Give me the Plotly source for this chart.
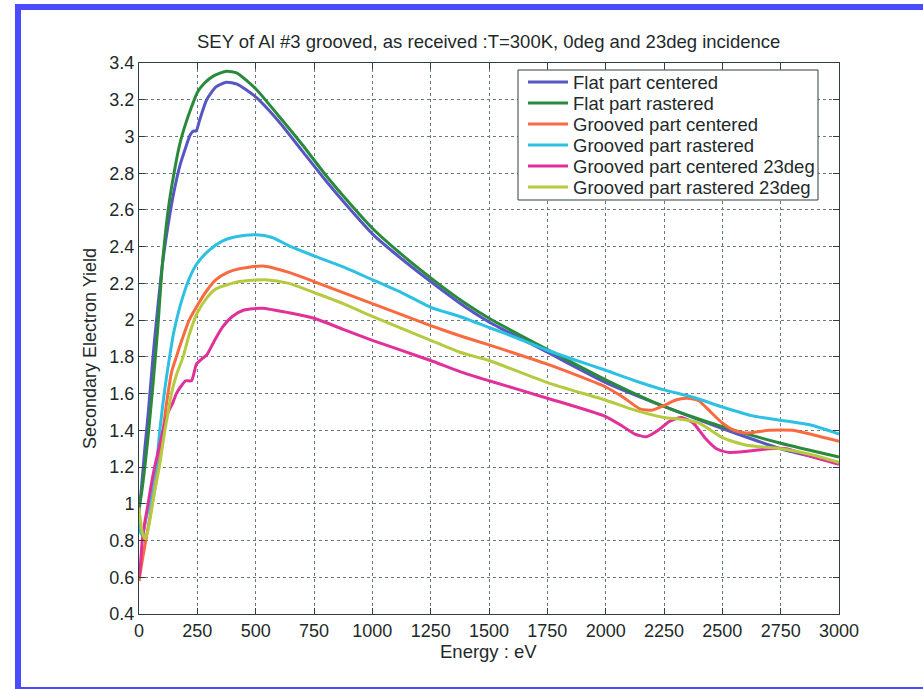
import plotly.graph_objects as go

# ---------------- data ----------------
flat_centered_E = [0, 10, 25, 40, 60, 75, 100, 125, 150, 175, 200, 220, 235, 245, 260, 290, 330, 375, 420, 500,
                   600, 700, 800, 900, 1000, 1100, 1250, 1400, 1500, 1750, 2000, 2250, 2500, 2750, 3000]
flat_centered_Y = [0.95, 1.08, 1.3, 1.5, 1.8, 2.0, 2.3, 2.52, 2.7, 2.84, 2.94, 3.01, 3.03, 3.03, 3.09, 3.2, 3.27, 3.295, 3.285, 3.215,
                   3.08, 2.92, 2.76, 2.61, 2.47, 2.36, 2.21, 2.07, 1.99, 1.825, 1.66, 1.53, 1.41, 1.3, 1.225]

flat_rastered_E = [0, 10, 25, 40, 60, 80, 100, 125, 150, 175, 200, 225, 250, 280, 320, 375, 420, 500,
                   600, 700, 800, 900, 1000, 1100, 1250, 1400, 1500, 1750, 2000, 2250, 2500, 2750, 3000]
flat_rastered_Y = [0.98, 1.05, 1.2, 1.38, 1.65, 1.95, 2.3, 2.6, 2.8, 2.96, 3.07, 3.16, 3.24, 3.29, 3.33, 3.355, 3.345, 3.26,
                   3.11, 2.955, 2.79, 2.64, 2.5, 2.385, 2.23, 2.09, 2.01, 1.84, 1.675, 1.53, 1.42, 1.33, 1.255]

groove_centered_E = [0, 5, 15, 29, 43, 57, 70, 82, 93, 103, 113, 124, 140, 160, 186, 215, 250, 290, 330, 380, 430, 530,
                     643, 750, 875, 1000, 1125, 1250, 1375, 1500, 1750, 2000, 2075, 2150, 2200, 2250, 2300, 2350,
                     2400, 2450, 2500, 2550, 2600, 2700, 2800, 2875, 3000]
groove_centered_Y = [0.58, 0.62, 0.7, 0.8, 0.9, 1.0, 1.1, 1.2, 1.3, 1.4, 1.5, 1.6, 1.72, 1.8, 1.9, 2.0, 2.08, 2.16, 2.22, 2.26, 2.28, 2.295,
                     2.26, 2.21, 2.15, 2.09, 2.03, 1.97, 1.915, 1.865, 1.76, 1.636, 1.58, 1.515, 1.51, 1.535, 1.565, 1.575,
                     1.56, 1.5, 1.44, 1.4, 1.385, 1.4, 1.4, 1.38, 1.34]

groove_rastered_E = [0, 8, 15, 30, 46, 60, 74, 89, 110, 131, 150, 186, 220, 250, 300, 357, 420, 500, 571, 650, 750,
                     875, 1000, 1125, 1250, 1375, 1500, 1625, 1750, 1875, 2000, 2125, 2250, 2375, 2500, 2625, 2750, 2875, 3000]
groove_rastered_Y = [0.9, 0.84, 0.83, 0.92, 1.0, 1.12, 1.2, 1.4, 1.62, 1.8, 1.94, 2.12, 2.24, 2.31, 2.38, 2.43, 2.455, 2.465, 2.45, 2.4, 2.35,
                     2.29, 2.22, 2.15, 2.07, 2.02, 1.96, 1.9, 1.836, 1.78, 1.727, 1.67, 1.62, 1.58, 1.527, 1.48, 1.455, 1.43, 1.38]

groove_centered23_E = [0, 5, 14, 25, 39, 52, 67, 85, 103, 125, 145, 160, 180, 200, 225, 246, 270, 290, 320, 357, 400, 450, 529,
                       643, 750, 875, 1000, 1125, 1250, 1375, 1500, 1750, 2000, 2075, 2125, 2175, 2225, 2275, 2325,
                       2375, 2425, 2475, 2525, 2600, 2700, 2775, 2875, 3000]
groove_centered23_Y = [0.6, 0.65, 0.8, 0.9, 1.0, 1.1, 1.2, 1.3, 1.4, 1.5, 1.55, 1.6, 1.64, 1.67, 1.67, 1.76, 1.79, 1.81, 1.88, 1.96, 2.02, 2.055, 2.065,
                       2.04, 2.01, 1.95, 1.89, 1.835, 1.78, 1.72, 1.67, 1.575, 1.475, 1.42, 1.38, 1.365, 1.4, 1.45, 1.47,
                       1.44, 1.36, 1.3, 1.28, 1.285, 1.3, 1.3, 1.26, 1.215]

groove_rastered23_E = [0, 5, 15, 25, 35, 45, 58, 72, 87, 99, 111, 125, 139, 160, 189, 215, 250, 290, 330, 430, 543,
                       643, 750, 875, 1000, 1125, 1250, 1375, 1500, 1750, 2000, 2125, 2250, 2325, 2400, 2500, 2600,
                       2750, 2875, 3000]
groove_rastered23_Y = [0.98, 0.92, 0.84, 0.81, 0.84, 0.9, 1.0, 1.1, 1.2, 1.3, 1.4, 1.5, 1.6, 1.7, 1.8, 1.92, 2.04, 2.12, 2.17, 2.21, 2.22,
                       2.2, 2.15, 2.09, 2.02, 1.955, 1.89, 1.825, 1.78, 1.66, 1.564, 1.51, 1.47, 1.46, 1.44, 1.36, 1.32,
                       1.3, 1.27, 1.225]

series_names = ["Flat part centered", "Flat part rastered", "Grooved part centered",
                "Grooved part rastered", "Grooved part centered 23deg", "Grooved part rastered 23deg"]
series_colors = ["#5656c4", "#2a8a3c", "#fa6a40", "#2ec0e2", "#e2309a", "#b6ca40"]

x_tickvals = [0, 250, 500, 750, 1000, 1250, 1500, 1750, 2000, 2250, 2500, 2750, 3000]
y_tickvals = [0.4, 0.6, 0.8, 1.0, 1.2, 1.4, 1.6, 1.8, 2.0, 2.2, 2.4, 2.6, 2.8, 3.0, 3.2, 3.4]
y_ticktext = ["0.4", "0.6", "0.8", "1", "1.2", "1.4", "1.6", "1.8", "2", "2.2", "2.4", "2.6", "2.8", "3", "3.2", "3.4"]

title_text = "SEY of Al #3 grooved, as received :T=300K, 0deg and 23deg incidence"
x_title = "Energy : eV"
y_title = "Secondary Electron Yield"

# ---------------- figure ----------------
W, H = 923, 689
L, R, T, B = 139, 84, 63, 75
PW, PH = W - L - R, H - T - B

def px(x):
    return (x - L) / PW

def py(y):
    return (H - B - y) / PH

FONT = "Liberation Sans, Arial, sans-serif"
TXT = "#1e2a2a"
DARK = "#2f3f3f"

legend_ids = ["legend", "legend2", "legend3", "legend4", "legend5", "legend6"]
legend_rows = [82.5, 103.5, 124.5, 145.5, 166.5, 187.5]

fig = go.Figure()
data = [(flat_centered_E, flat_centered_Y), (flat_rastered_E, flat_rastered_Y),
        (groove_centered_E, groove_centered_Y), (groove_rastered_E, groove_rastered_Y),
        (groove_centered23_E, groove_centered23_Y), (groove_rastered23_E, groove_rastered23_Y)]
for (xe, ye), name, col, lid in zip(data, series_names, series_colors, legend_ids):
    fig.add_trace(go.Scatter(x=xe, y=ye, mode="lines", name=name, legend=lid,
                             line=dict(color=col, width=3, shape="spline", smoothing=0.6)))

axis_common = dict(showline=True, linecolor=DARK, linewidth=1, mirror="allticks",
                   ticks="inside", ticklen=6, tickcolor=DARK,
                   showgrid=True, gridcolor="#6a7a7a", griddash="dot", gridwidth=1,
                   zeroline=False, tickfont=dict(family=FONT, size=18, color=TXT))

fig.update_xaxes(range=[0, 3000], tickvals=x_tickvals, **axis_common)
fig.update_yaxes(range=[0.4, 3.4], tickvals=y_tickvals, ticktext=y_ticktext, **axis_common)

shapes = [
    dict(type="rect", xref="paper", yref="paper", x0=px(518), x1=px(818), y0=py(200), y1=py(70),
         fillcolor="white", line=dict(width=1, color=DARK), layer="above"),
    dict(type="rect", xref="paper", yref="paper", x0=px(15), x1=px(21), y0=py(689), y1=py(4),
         fillcolor="#4a4aff", line=dict(width=0), layer="above"),
    dict(type="rect", xref="paper", yref="paper", x0=px(15), x1=px(923), y0=py(10), y1=py(4),
         fillcolor="#4a4aff", line=dict(width=0), layer="above"),
    dict(type="rect", xref="paper", yref="paper", x0=px(15), x1=px(923), y0=py(689), y1=py(687),
         fillcolor="#4a4aff", line=dict(width=0), layer="above"),
]

annotations = [
    dict(text=title_text, xref="paper", yref="paper", x=px(488), y=py(42), showarrow=False,
         xanchor="center", yanchor="middle", font=dict(family=FONT, size=18.5, color=TXT)),
    dict(text=x_title, xref="paper", yref="paper", x=px(488), y=py(651), showarrow=False,
         xanchor="center", yanchor="middle", font=dict(family=FONT, size=18.5, color=TXT)),
    dict(text=y_title, xref="paper", yref="paper", x=px(90), y=py(349), showarrow=False, textangle=-90,
         xanchor="center", yanchor="middle", font=dict(family=FONT, size=18, color=TXT)),
]

legend_layouts = {}
for lid, row in zip(legend_ids, legend_rows):
    legend_layouts[lid] = dict(x=px(523), y=py(row), xanchor="left", yanchor="middle",
                               bgcolor="rgba(0,0,0,0)", borderwidth=0,
                               font=dict(family=FONT, size=18.5, color=TXT),
                               itemwidth=40, tracegroupgap=0)

fig.update_layout(
    width=W, height=H,
    margin=dict(l=L, r=R, t=T, b=B, autoexpand=False),
    paper_bgcolor="white", plot_bgcolor="white",
    showlegend=True,
    shapes=shapes, annotations=annotations,
    **legend_layouts,
)

fig.write_html("out.html")
